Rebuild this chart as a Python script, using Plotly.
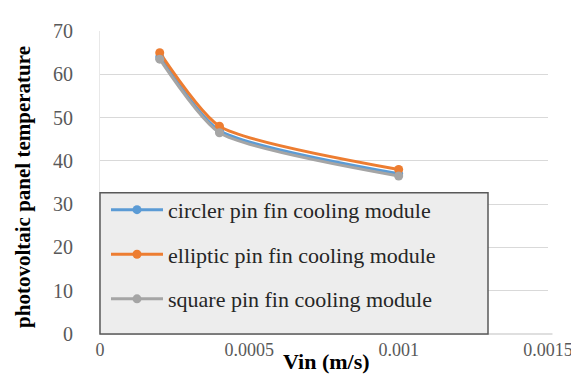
import plotly.graph_objects as go

vin = [0.0002, 0.0004, 0.001]
series_names = ["circler pin fin cooling module",
                "elliptic pin fin cooling module",
                "square pin fin cooling module"]
circler = [64.0, 47.0, 37.0]
elliptic = [65.0, 48.0, 38.0]
square = [63.5, 46.5, 36.5]
colors = ["#5B9BD5", "#ED7D31", "#A5A5A5"]
x_ticks = [0, 0.0005, 0.001, 0.0015]
x_ticktext = ["0", "0.0005", "0.001", "0.0015"]
y_ticks = [0, 10, 20, 30, 40, 50, 60, 70]

W, H = 579, 379
L, R, T, B = 92, 39, 17, 53
pw, ph = W - L - R, H - T - B

def px_x(p):
    return (p - L) / pw

def px_y(p):
    return (H - B - p) / ph

fig = go.Figure()
for i, (name, ys) in enumerate(zip(series_names, [circler, elliptic, square])):
    fig.add_trace(go.Scatter(
        x=vin, y=ys, name=name, mode="lines+markers",
        line=dict(color=colors[i], width=3, shape="spline", smoothing=0.6),
        marker=dict(color=colors[i], size=9),
        legendgroup=f"g{i}",
    ))

serif = "Liberation Serif"

fig.update_layout(
    width=W, height=H,
    margin=dict(l=L, r=R, t=T, b=B),
    paper_bgcolor="white", plot_bgcolor="white",
    showlegend=True,
    legend=dict(
        x=px_x(98), y=px_y(178), xanchor="left", yanchor="top",
        bgcolor="rgba(0,0,0,0)", borderwidth=0,
        font=dict(family=serif, size=22, color="#262626"),
        itemwidth=52, tracegroupgap=13,
    ),
    xaxis=dict(
        range=[0, 0.0015], tickvals=x_ticks, ticktext=x_ticktext,
        showgrid=False, zeroline=False, showline=False,
        ticks="", ticklabelstandoff=3,
        tickfont=dict(family=serif, size=18, color="#595959"),
    ),
    yaxis=dict(
        range=[0, 70], tickvals=y_ticks,
        showgrid=True, gridcolor="#D9D9D9", gridwidth=1.2,
        zeroline=False, showline=True, linecolor="#E8E8E8", linewidth=1,
        ticks="", ticklabelstandoff=22,
        tickfont=dict(family=serif, size=20, color="#595959"),
    ),
    shapes=[
        dict(type="line", xref="paper", yref="paper", x0=0, x1=1.01, y0=0, y1=0,
             line=dict(color="#BFBFBF", width=1.2), layer="below"),
        dict(type="rect", xref="paper", yref="paper",
             x0=0, x1=px_x(480), y0=0, y1=px_y(182),
             fillcolor="#EDEDED", line=dict(color="#595959", width=1.5),
             layer="above"),
    ],
    annotations=[
        dict(text="<b>photovoltaic panel temperature</b>", textangle=-90,
             xref="paper", yref="paper", x=px_x(15), y=px_y(176),
             xanchor="center", yanchor="middle", showarrow=False,
             font=dict(family=serif, size=21, color="#000000")),
        dict(text="<b>Vin (m/s)</b>",
             xref="paper", yref="paper", x=px_x(318), y=px_y(354),
             xanchor="center", yanchor="middle", showarrow=False,
             font=dict(family=serif, size=22, color="#000000")),
    ],
)

fig.write_html("out.html")
